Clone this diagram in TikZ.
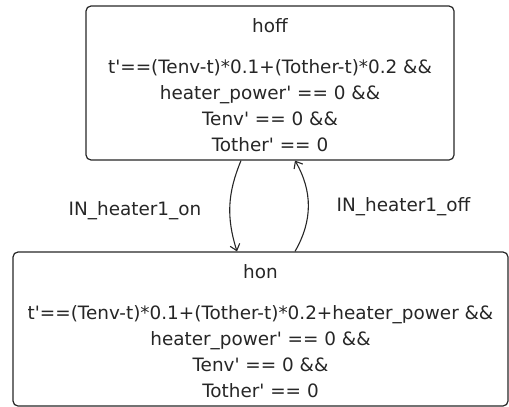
\documentclass[tikz,border=0pt]{standalone}
\usepackage{fontspec}
\setmainfont{DejaVu Sans}[Ligatures=TeXOff]
\usepackage{tikz}
\usepackage{xcolor}
\usetikzlibrary{arrows.meta}

\begin{document}
\begin{tikzpicture}[x=1pt, y=-1pt,
    every node/.style={font=\fontsize{18.4}{26}\selectfont, text=black!85},
    state/.style={draw=black!85, line width=1.2pt, rounded corners=5pt, align=center, inner sep=0pt},
    trans/.style={draw=black!85, line width=1.1pt, -{Straight Barb[length=6pt, width=10pt]}}]
                \useasboundingbox (0,0) rectangle (509,407);

                \node[state, minimum width=368pt, minimum height=154pt] (hoff) at (270,83) {\rule{0pt}{18pt}hoff\\[15pt]
                    t'==(Tenv-t)*0.1+(Tother-t)*0.2 \&\&\\
                    heater\_power' == 0 \&\&\\
                    Tenv' == 0 \&\&\\
                    Tother' == 0};
                \node[state, minimum width=495pt, minimum height=154pt] (hon) at (260.5,329) {\rule{0pt}{18pt}hon\\[15pt]
                    t'==(Tenv-t)*0.1+(Tother-t)*0.2+heater\_power \&\&\\
                    heater\_power' == 0 \&\&\\
                    Tenv' == 0 \&\&\\
                    Tother' == 0};

                \node (on) at (135,211) {IN\_heater1\_on};
                \node (off) at (403.5,207) {IN\_heater1\_off};

                \draw[trans] ([xshift=-29pt]hoff.south) to[bend right=20] ([xshift=-23.5pt]hon.north);
                \draw[trans] ([xshift=34.5pt]hon.north) to[bend right=30] ([xshift=25pt]hoff.south);
            \end{tikzpicture}
\end{document}
